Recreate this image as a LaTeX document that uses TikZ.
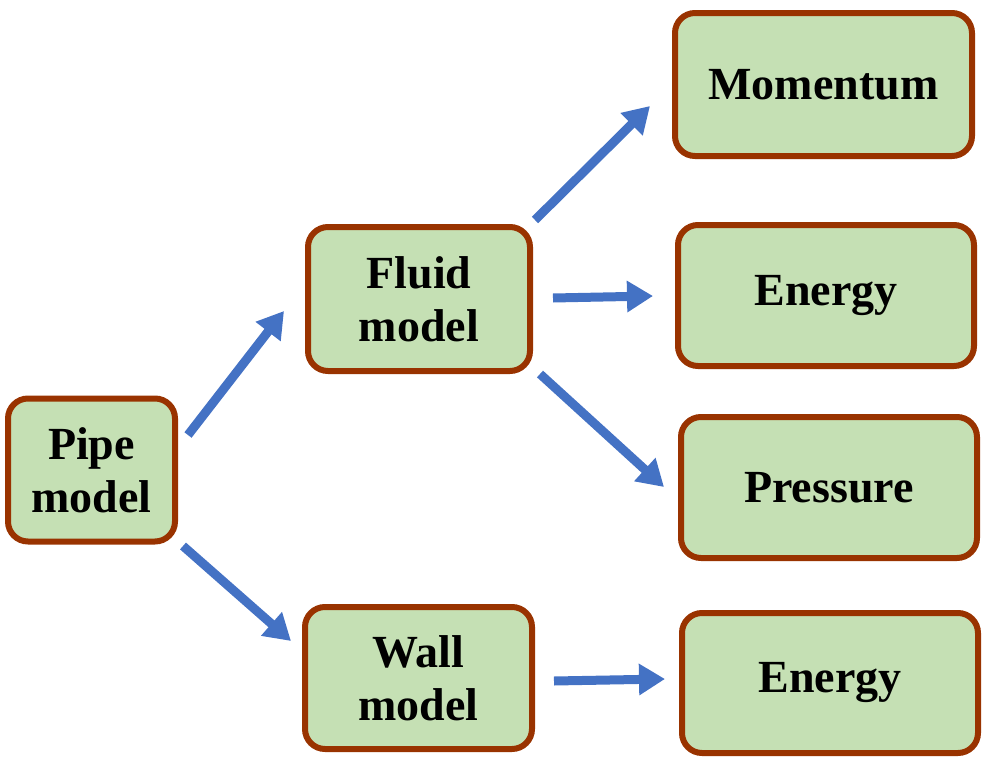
\documentclass[tikz,border=0pt]{standalone}
\usepackage{fontspec}
\setmainfont{Liberation Serif}
\usetikzlibrary{arrows.meta}
\definecolor{boxfill}{HTML}{C5E0B4}
\definecolor{boxline}{HTML}{993300}
\definecolor{arrowblue}{HTML}{4472C4}
\begin{document}
\begin{tikzpicture}[x=1pt,y=-1pt,
  box/.style={draw=boxline, fill=boxfill, line width=6pt, rounded corners=20pt,
    align=center, font=\fontsize{46}{53}\selectfont\bfseries, inner sep=0pt},
  conn/.style={draw=arrowblue, line width=9pt, -{Triangle[width=30pt,length=26pt]}}]
\useasboundingbox (0,0) rectangle (989,763);
\node[box, minimum width=167pt, minimum height=143pt] (pipe) at (91.5,470) {Pipe\\model};
\node[box, minimum width=222pt, minimum height=144pt] (fluid) at (419,299) {Fluid\\model};
\node[box, minimum width=227pt, minimum height=142pt] (wall) at (418.5,678) {Wall\\model};
\node[box, minimum width=297pt, minimum height=143pt] (mom) at (823.5,84.5) {Momentum};
\node[box, minimum width=296pt, minimum height=141pt] (en1) at (826,295.5) {Energy};
\node[box, minimum width=296pt, minimum height=141pt] (pres) at (829,487.5) {Pressure};
\node[box, minimum width=296pt, minimum height=140pt] (en2) at (830,683) {Energy};
\coordinate (a1s) at (188,435); \coordinate (a1e) at (284,311);
\coordinate (a2s) at (183,546); \coordinate (a2e) at (291,641);
\coordinate (a3s) at (535,220); \coordinate (a3e) at (650,106);
\coordinate (a4s) at (553,298); \coordinate (a4e) at (653,296);
\coordinate (a5s) at (540,374); \coordinate (a5e) at (664,487);
\coordinate (a6s) at (554,681); \coordinate (a6e) at (665,679);
\draw[conn] (a1s) -- (a1e);
\draw[conn] (a2s) -- (a2e);
\draw[conn] (a3s) -- (a3e);
\draw[conn] (a4s) -- (a4e);
\draw[conn] (a5s) -- (a5e);
\draw[conn] (a6s) -- (a6e);
\end{tikzpicture}
\end{document}
